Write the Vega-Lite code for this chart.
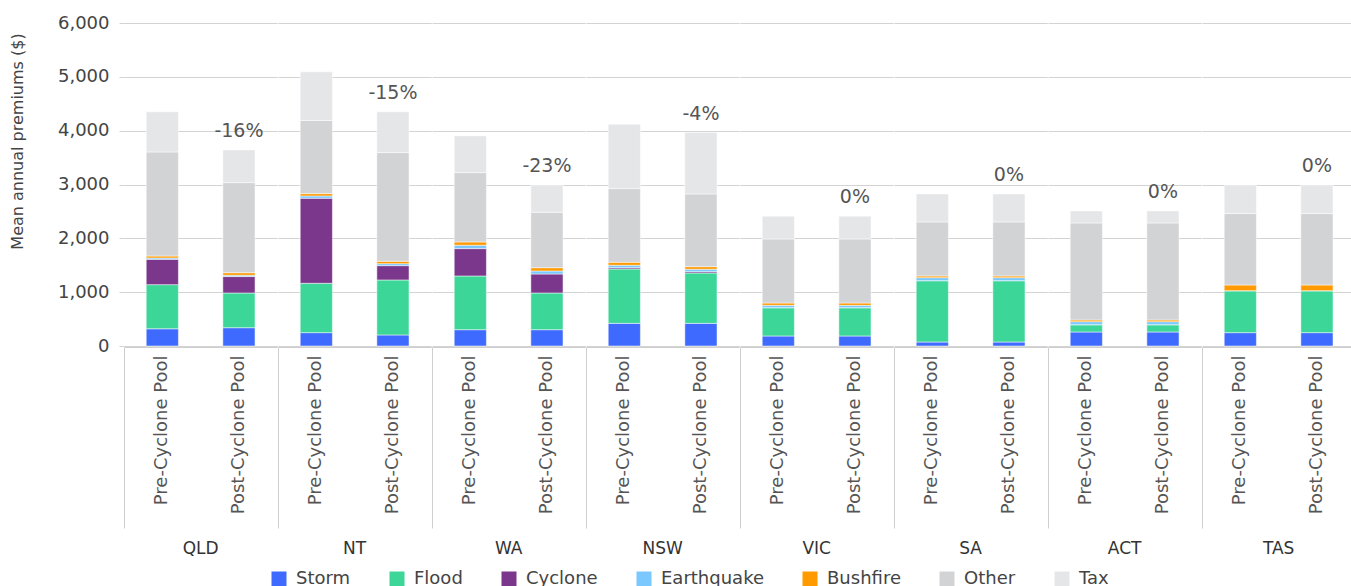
{
  "$schema": "https://vega.github.io/schema/vega-lite/v6.json",
  "padding": {"left": 9, "top": 14, "right": 0, "bottom": 0},
  "data": {"values": [
    {"state":"QLD","pool":"Pre-Cyclone Pool","Storm":320,"Flood":820,"Cyclone":470,"Earthquake":25,"Bushfire":37,"Other":1933,"Tax":745,"change":""},
    {"state":"QLD","pool":"Post-Cyclone Pool","Storm":340,"Flood":645,"Cyclone":305,"Earthquake":25,"Bushfire":47,"Other":1673,"Tax":608,"change":"-16%"},
    {"state":"NT","pool":"Pre-Cyclone Pool","Storm":248,"Flood":917,"Cyclone":1580,"Earthquake":43,"Bushfire":43,"Other":1357,"Tax":905,"change":""},
    {"state":"NT","pool":"Post-Cyclone Pool","Storm":205,"Flood":1022,"Cyclone":266,"Earthquake":37,"Bushfire":44,"Other":2019,"Tax":757,"change":"-15%"},
    {"state":"WA","pool":"Pre-Cyclone Pool","Storm":303,"Flood":998,"Cyclone":508,"Earthquake":63,"Bushfire":61,"Other":1288,"Tax":682,"change":""},
    {"state":"WA","pool":"Post-Cyclone Pool","Storm":303,"Flood":682,"Cyclone":353,"Earthquake":56,"Bushfire":61,"Other":1030,"Tax":508,"change":"-23%"},
    {"state":"NSW","pool":"Pre-Cyclone Pool","Storm":421,"Flood":1010,"Cyclone":24,"Earthquake":45,"Bushfire":56,"Other":1368,"Tax":1196,"change":""},
    {"state":"NSW","pool":"Post-Cyclone Pool","Storm":421,"Flood":936,"Cyclone":24,"Earthquake":45,"Bushfire":48,"Other":1351,"Tax":1140,"change":"-4%"},
    {"state":"VIC","pool":"Pre-Cyclone Pool","Storm":186,"Flood":526,"Cyclone":0,"Earthquake":43,"Bushfire":44,"Other":1190,"Tax":422,"change":""},
    {"state":"VIC","pool":"Post-Cyclone Pool","Storm":186,"Flood":526,"Cyclone":0,"Earthquake":43,"Bushfire":44,"Other":1190,"Tax":422,"change":"0%"},
    {"state":"SA","pool":"Pre-Cyclone Pool","Storm":74,"Flood":1140,"Cyclone":0,"Earthquake":56,"Bushfire":31,"Other":1004,"Tax":520,"change":""},
    {"state":"SA","pool":"Post-Cyclone Pool","Storm":74,"Flood":1140,"Cyclone":0,"Earthquake":56,"Bushfire":31,"Other":1004,"Tax":520,"change":"0%"},
    {"state":"ACT","pool":"Pre-Cyclone Pool","Storm":260,"Flood":136,"Cyclone":0,"Earthquake":56,"Bushfire":31,"Other":1803,"Tax":223,"change":""},
    {"state":"ACT","pool":"Post-Cyclone Pool","Storm":260,"Flood":136,"Cyclone":0,"Earthquake":56,"Bushfire":31,"Other":1803,"Tax":223,"change":"0%"},
    {"state":"TAS","pool":"Pre-Cyclone Pool","Storm":248,"Flood":780,"Cyclone":0,"Earthquake":0,"Bushfire":106,"Other":1326,"Tax":533,"change":""},
    {"state":"TAS","pool":"Post-Cyclone Pool","Storm":248,"Flood":780,"Cyclone":0,"Earthquake":0,"Bushfire":106,"Other":1326,"Tax":533,"change":"0%"}
  ]},
  "transform": [
    {"fold": ["Storm","Flood","Cyclone","Earthquake","Bushfire","Other","Tax"], "as": ["component","value"]},
    {"calculate": "indexof(['Storm','Flood','Cyclone','Earthquake','Bushfire','Other','Tax'], datum.component)", "as": "k"}
  ],
  "facet": {
    "column": {
      "field": "state", "type": "nominal",
      "sort": ["QLD","NT","WA","NSW","VIC","SA","ACT","TAS"],
      "header": {"title": null, "labelOrient": "bottom", "labelFontSize": 17, "labelColor": "#333333", "labelFont": "DejaVu Sans", "labelPadding": 12}
    }
  },
  "spacing": 0,
  "spec": {
    "width": 153.25,
    "height": 323,
    "layer": [
      {
        "mark": {"type": "bar", "width": {"band": 0.42}, "stroke": "white", "strokeWidth": 0.5},
        "encoding": {
          "x": {
            "field": "pool", "type": "nominal",
            "sort": ["Pre-Cyclone Pool","Post-Cyclone Pool"],
            "scale": {"paddingInner": 0, "paddingOuter": 0},
            "axis": {
              "title": null, "labelAngle": -90, "labelFontSize": 18, "labelColor": "#555555", "labelFont": "DejaVu Sans",
              "labelAlign": "right", "labelBaseline": "middle",
              "bandPosition": 0, "tickSize": 181,
              "tickColor": {"condition": {"test": "datum.value === 'Post-Cyclone Pool'", "value": "transparent"}, "value": "#cfcfcf"},
              "labelPadding": -173, "domainColor": "#cfcfcf", "labelBound": false
            }
          },
          "y": {
            "field": "value", "type": "quantitative", "stack": "zero",
            "scale": {"domain": [0, 6000]},
            "axis": {
              "title": "Mean annual premiums ($)", "values": [0,1000,2000,3000,4000,5000,6000], "format": ",.0f",
              "domain": false, "tickSize": 5, "tickColor": "#d3d3d3", "gridColor": "#d3d3d3",
              "labelFontSize": 18, "labelColor": "#444444", "labelFont": "DejaVu Sans", "labelPadding": 10,
              "titleFontSize": 16, "titleFont": "DejaVu Sans", "titleFontWeight": "normal", "titleColor": "#444444", "titlePadding": 32, "titleY": 118
            }
          },
          "order": {"field": "k", "type": "quantitative", "sort": "ascending"},
          "color": {
            "field": "component", "type": "nominal",
            "sort": ["Storm","Flood","Cyclone","Earthquake","Bushfire","Other","Tax"],
            "scale": {
              "domain": ["Storm","Flood","Cyclone","Earthquake","Bushfire","Other","Tax"],
              "range": ["#3e6aff","#3dd699","#7b378b","#7ac8fd","#ff9a00","#d2d3d5","#e5e6e8"]
            },
            "legend": {
              "orient": "none", "legendX": 146, "legendY": 547, "direction": "horizontal", "columns": 7, "title": null, "symbolType": "square",
              "symbolSize": 225, "symbolStrokeWidth": 0, "labelFontSize": 18, "labelColor": "#444444",
              "labelFont": "DejaVu Sans", "columnPadding": 37, "labelOffset": 8
            }
          }
        }
      },
      {
        "transform": [
          {"aggregate": [{"op": "sum", "field": "value", "as": "total"}], "groupby": ["state","pool","change"]},
          {"filter": "datum.change != ''"}
        ],
        "mark": {"type": "text", "baseline": "bottom", "dy": -9, "fontSize": 19, "color": "#555555", "font": "DejaVu Sans"},
        "encoding": {
          "x": {"field": "pool", "type": "nominal", "sort": ["Pre-Cyclone Pool","Post-Cyclone Pool"]},
          "y": {"field": "total", "type": "quantitative"},
          "text": {"field": "change"}
        }
      }
    ]
  },
  "config": {
    "font": "DejaVu Sans",
    "view": {"stroke": null}
  }
}
